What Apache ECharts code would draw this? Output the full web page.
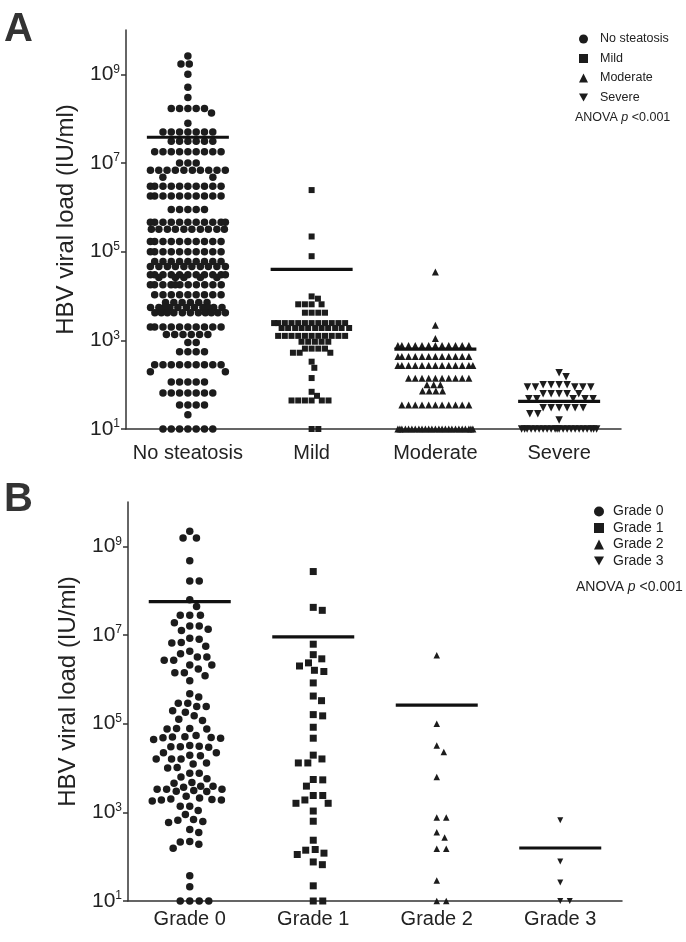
<!DOCTYPE html>
<html><head><meta charset="utf-8">
<script src="https://cdn.jsdelivr.net/npm/echarts@6/dist/echarts.min.js"></script>
<style>html,body{margin:0;padding:0;background:#fff}#c{width:686px;height:942px}</style>
</head><body><div id="c"></div>
<script>
// ---------- DATA (HBV viral load, IU/ml) ----------
const categoriesA = ['No steatosis', 'Mild', 'Moderate', 'Severe'];
const categoriesB = ['Grade 0', 'Grade 1', 'Grade 2', 'Grade 3'];
const yTickValues = [10, 1e3, 1e5, 1e7, 1e9];

const noSteatosis = [
  2.6e9, 1.7e9, 1.7e9, 1.0e9, 5.1e8, 3.0e8,
  1.7e8, 1.7e8, 1.7e8, 1.7e8, 1.7e8, 1.35e8, 7.9e7,
  5.0e7, 5.0e7, 5.0e7, 5.0e7, 5.0e7, 5.0e7, 5.0e7,
  3.1e7, 3.1e7, 3.1e7, 3.1e7, 3.1e7, 3.1e7,
  1.8e7, 1.8e7, 1.8e7, 1.8e7, 1.8e7, 1.8e7, 1.8e7, 1.8e7, 1.8e7,
  1.0e7, 1.0e7, 1.0e7,
  6.9e6, 6.9e6, 6.9e6, 6.9e6, 6.9e6, 6.9e6, 6.9e6, 6.9e6, 6.9e6, 6.9e6,
  4.8e6, 4.8e6,
  3.0e6, 3.0e6, 3.0e6, 3.0e6, 3.0e6, 3.0e6, 3.0e6, 3.0e6, 3.0e6, 3.0e6,
  1.8e6, 1.8e6, 1.8e6, 1.8e6, 1.8e6, 1.8e6, 1.8e6, 1.8e6, 1.8e6, 1.8e6,
  8.9e5, 8.9e5, 8.9e5, 8.9e5, 8.9e5,
  4.6e5, 4.6e5, 4.6e5, 4.6e5, 4.6e5, 4.6e5, 4.6e5, 4.6e5, 4.6e5, 4.6e5, 4.6e5,
  3.2e5, 3.2e5, 3.2e5, 3.2e5, 3.2e5, 3.2e5, 3.2e5, 3.2e5, 3.2e5, 3.2e5,
  1.7e5, 1.7e5, 1.7e5, 1.7e5, 1.7e5, 1.7e5, 1.7e5, 1.7e5, 1.7e5, 1.7e5,
  1.0e5, 1.0e5, 1.0e5, 1.0e5, 1.0e5, 1.0e5, 1.0e5, 1.0e5, 1.0e5, 1.0e5,
  6.0e4, 6.0e4, 6.0e4, 6.0e4, 6.0e4, 6.0e4, 6.0e4, 6.0e4, 6.0e4,
  4.6e4, 4.6e4, 4.6e4, 4.6e4, 4.6e4, 4.6e4, 4.6e4, 4.6e4, 4.6e4, 4.6e4,
  3.0e4, 3.0e4, 3.0e4, 3.0e4, 3.0e4, 3.0e4, 3.0e4, 3.0e4, 3.0e4, 3.0e4, 3.0e4,
  2.6e4, 2.6e4, 2.6e4, 2.6e4, 2.6e4,
  1.8e4, 1.8e4, 1.8e4, 1.8e4, 1.8e4, 1.8e4, 1.8e4, 1.8e4, 1.8e4, 1.8e4, 1.8e4,
  1.07e4, 1.07e4, 1.07e4, 1.07e4, 1.07e4, 1.07e4, 1.07e4, 1.07e4, 1.07e4,
  7.1e3, 7.1e3, 7.1e3, 7.1e3, 7.1e3, 7.1e3,
  5.5e3, 5.5e3, 5.5e3, 5.5e3, 5.5e3, 5.5e3, 5.5e3, 5.5e3, 5.5e3, 5.5e3, 5.5e3,
  4.2e3, 4.2e3, 4.2e3, 4.2e3, 4.2e3, 4.2e3, 4.2e3, 4.2e3, 4.2e3, 4.2e3, 4.2e3,
  2.0e3, 2.0e3, 2.0e3, 2.0e3, 2.0e3, 2.0e3, 2.0e3, 2.0e3, 2.0e3, 2.0e3,
  1.35e3, 1.35e3, 1.35e3, 1.35e3, 1.35e3, 1.35e3,
  890, 890, 550, 550, 550, 550,
  280, 280, 280, 280, 280, 280, 280, 280, 280,
  195, 195, 115, 115, 115, 115, 115,
  65, 65, 65, 65, 65, 65, 65,
  35, 35, 35, 35, 21,
  10, 10, 10, 10, 10, 10, 10
];
const mild = [
  2.45e6, 2.2e5, 7.9e4, 9.8e3, 8.7e3,
  6.5e3, 6.5e3, 6.5e3, 6.5e3, 4.2e3, 4.2e3, 4.2e3, 4.2e3,
  2.45e3, 2.45e3, 2.45e3, 2.45e3, 2.45e3, 2.45e3, 2.45e3, 2.45e3, 2.45e3, 2.45e3, 2.45e3, 2.45e3,
  1.9e3, 1.9e3, 1.9e3, 1.9e3, 1.9e3, 1.9e3, 1.9e3, 1.9e3, 1.9e3, 1.9e3, 1.9e3,
  1.26e3, 1.26e3, 1.26e3, 1.26e3, 1.26e3, 1.26e3, 1.26e3, 1.26e3, 1.26e3, 1.26e3, 1.26e3,
  930, 930, 930, 930, 930, 650, 650, 650, 650, 525, 525, 525,
  330, 240, 141, 69, 56, 44, 44, 44, 44, 44, 44, 10, 10
];
const moderate = [
  3.5e4, 2.2e3, 1.1e3,
  760, 760, 760, 760, 760, 760, 760, 760, 760, 760, 760, 760,
  430, 430, 430, 430, 430, 430, 430, 430, 430, 430, 430, 430,
  270, 270, 270, 270, 270, 270, 270, 270, 270, 270, 270, 270, 270,
  140, 140, 140, 140, 140, 140, 140, 140, 140, 140,
  100, 100, 100, 72, 72, 72, 72,
  35, 35, 35, 35, 35, 35, 35, 35, 35, 35, 35,
  10, 10, 10, 10, 10, 10, 10, 10, 10, 10, 10, 10, 10, 10, 10, 10, 10, 10, 10, 10, 10, 10, 10, 10, 10
];
const severe = [
  186, 151, 100, 100, 100, 100, 89, 89, 89, 89, 89,
  62, 62, 62, 62, 62, 48, 48, 48, 48, 48,
  30, 30, 30, 30, 30, 30, 22, 22, 16,
  10, 10, 10, 10, 10, 10, 10, 10, 10, 10, 10, 10, 10, 10, 10, 10, 10, 10, 10, 10, 10, 10
];
const grade0 = [
  2.2e9, 1.55e9, 1.55e9, 4.7e8, 1.66e8, 1.66e8, 6.2e7, 4.4e7, 2.8e7, 2.8e7, 2.8e7,
  1.9e7, 1.6e7, 1.6e7, 1.35e7, 1.26e7, 8.5e6, 8.0e6, 6.8e6, 6.6e6, 5.6e6,
  4.3e6, 3.8e6, 3.2e6, 3.2e6, 2.7e6, 2.7e6, 2.1e6, 2.1e6, 1.7e6, 1.4e6, 1.4e6, 1.2e6, 9.3e5,
  4.7e5, 4.0e5, 2.9e5, 2.9e5, 2.45e5, 2.45e5, 1.95e5, 1.8e5, 1.5e5, 1.26e5, 1.18e5,
  7.8e4, 7.8e4, 7.6e4, 7.6e4, 5.4e4, 5.1e4, 5.0e4, 4.9e4, 4.8e4, 4.7e4, 4.4e4,
  3.2e4, 3.1e4, 3.0e4, 3.0e4, 2.95e4, 2.2e4, 2.2e4, 1.95e4, 1.9e4, 1.6e4, 1.6e4, 1.6e4,
  1.3e4, 1.23e4, 1.02e4, 1.0e4, 7.6e3, 7.6e3, 6.3e3, 5.7e3, 4.7e3, 4.5e3, 3.9e3, 3.9e3,
  3.7e3, 3.3e3, 3.3e3, 3.3e3, 3.1e3, 3.0e3, 2.95e3,
  2.3e3, 2.1e3, 2.0e3, 1.95e3, 1.9e3, 1.9e3, 1.8e3, 1.38e3, 1.38e3, 1.1e3, 890,
  690, 660, 620, 590, 410, 350, 220, 215, 190, 155, 37, 21, 10, 10, 10, 10
];
const grade1 = [
  2.7e8, 4.2e7, 3.6e7, 6.2e6, 3.6e6, 2.9e6, 2.35e6, 2.0e6, 1.6e6, 1.5e6,
  8.3e5, 4.2e5, 3.3e5, 1.6e5, 1.5e5, 8.3e4, 4.7e4, 1.95e4, 1.6e4, 1.3e4, 1.3e4,
  5.5e3, 5.4e3, 3.9e3, 2.4e3, 2.4e3, 1.9e3, 1.6e3, 1.6e3, 1.07e3,
  630, 235, 145, 140, 120, 112, 76, 66, 22, 10, 10
];
const grade2 = [3.5e6, 1.0e5, 3.2e4, 2.3e4, 6.3e3, 760, 760, 355, 270, 150, 150, 29, 10, 10];
const grade3 = [660, 78, 26, 10, 10];

// ---------- LAYOUT ----------
const gridA = { left: 126, right: 65, top: 30, height: 399 };
const gridB = { left: 128, right: 64, top: 502, height: 399 };
const FONT = "'Liberation Sans', Arial, Helvetica, sans-serif";
const INK = '#1c1c1c';
const TXT = '#222';

// beeswarm offsets (pixels) computed from values
function swarm(values, grid, d, maxHalf) {
  const toPx = v => grid.top + (10 - Math.log10(v)) / 9 * grid.height;
  const pts = values.map((v, i) => ({ i, y: toPx(v), x: 0 }));
  const order = pts.slice().sort((a, b) => a.y - b.y || a.i - b.i);
  const placed = [];
  const off = new Array(values.length);
  for (const p of order) {
    const near = placed.filter(q => Math.abs(q.y - p.y) < d);
    const cands = [0];
    for (const q of near) {
      const dx = Math.sqrt(d * d - (q.y - p.y) * (q.y - p.y));
      cands.push(q.x + dx, q.x - dx);
    }
    const ok = cands.filter(x => Math.abs(x) <= maxHalf + 1e-6 &&
      near.every(q => (q.x - x) * (q.x - x) + (q.y - p.y) * (q.y - p.y) >= d * d - 1e-6));
    let x = 0;
    if (ok.length) {
      const bal = near.reduce((s, q) => s + q.x, 0);
      ok.sort((a, b) => (Math.round(Math.abs(a) * 100) - Math.round(Math.abs(b) * 100)) || (bal > 0 ? a - b : b - a));
      x = ok[0];
    } else {
      let best = -1;
      for (let t = -maxHalf; t <= maxHalf + 1e-9; t += 0.5) {
        let m = Infinity;
        for (const q of near) m = Math.min(m, Math.hypot(q.x - t, q.y - p.y));
        if (m > best + 1e-9 || (Math.abs(m - best) < 1e-9 && Math.abs(t) < Math.abs(x))) { best = m; x = t; }
      }
    }
    p.x = x; placed.push(p); off[p.i] = x;
  }
  return off;
}

const triDown = 'path://M0,0L10,0L5,9Z';
function scatterSeries(name, values, cat, idx, grid, symbol, size, d) {
  const off = swarm(values, grid, d, 37.5);
  return {
    type: 'scatter', name, xAxisIndex: idx, yAxisIndex: idx, symbol, symbolSize: size,
    clip: false, z: 3, itemStyle: { color: INK, opacity: 1 },
    data: values.map((v, i) => ({ value: [cat, v], symbolOffset: [off[i], 0] }))
  };
}
const mean = a => a.reduce((s, v) => s + v, 0) / a.length;
function meanSeries(cats, groups, idx) {
  return {
    type: 'custom', xAxisIndex: idx, yAxisIndex: idx, z: 5, silent: true,
    encode: { x: 0, y: 1 },
    data: groups.map((g, i) => [cats[i], mean(g)]),
    renderItem: (params, api) => {
      const c = api.coord([api.value(0), api.value(1)]);
      return { type: 'line', shape: { x1: c[0] - 41, y1: c[1], x2: c[0] + 41, y2: c[1] },
        style: { stroke: '#111', lineWidth: 3.2 } };
    }
  };
}

function xAxis(cats, idx, margin) {
  return {
    type: 'category', gridIndex: idx, data: cats, boundaryGap: true,
    axisLine: { onZero: false, lineStyle: { color: '#333', width: 1.5 } },
    axisTick: { alignWithLabel: true, length: 6, lineStyle: { color: '#333', width: 1.5 } },
    axisLabel: { interval: 0, margin, fontSize: 20, color: TXT, fontFamily: FONT },
    splitLine: { show: false }
  };
}
function yAxis(idx) {
  return {
    type: 'log', logBase: 10, gridIndex: idx, min: 10, max: 1e10,
    name: 'HBV viral load (IU/ml)', nameLocation: 'middle', nameGap: 48,
    nameTextStyle: { fontSize: 24, color: TXT, fontFamily: FONT, padding: [0, 0, 0, 20] },
    axisLine: { show: true, lineStyle: { color: '#333', width: 1.5 } },
    axisTick: { show: true, length: 5, customValues: yTickValues, lineStyle: { color: '#333', width: 1.5 } },
    axisLabel: {
      customValues: yTickValues, margin: 6, fontFamily: FONT,
      formatter: v => '{b|10}{s|' + Math.round(Math.log10(v)) + '}',
      rich: {
        b: { fontSize: 21, color: TXT, fontFamily: FONT, lineHeight: 22 },
        s: { fontSize: 12, color: TXT, fontFamily: FONT, verticalAlign: 'top', lineHeight: 22 }
      }
    },
    splitLine: { show: false }, minorTick: { show: false }
  };
}

const chart = echarts.init(document.getElementById('c'), null, { renderer: 'canvas' });
chart.setOption({
  backgroundColor: '#fff',
  animation: false,
  textStyle: { fontFamily: FONT },
  grid: [gridA, gridB],
  xAxis: [xAxis(categoriesA, 0, 14), xAxis(categoriesB, 1, 8)],
  yAxis: [yAxis(0), yAxis(1)],
  legend: [
    {
      orient: 'vertical', left: 574, top: 27, itemWidth: 9, itemHeight: 9, itemGap: 5.5, selectedMode: false,
      textStyle: { fontSize: 12.5, color: TXT, fontFamily: FONT, lineHeight: 14, padding: [0, 0, 0, 7] },
      data: [
        { name: 'No steatosis', icon: 'circle' }, { name: 'Mild', icon: 'rect' },
        { name: 'Moderate', icon: 'triangle' }, { name: 'Severe', icon: triDown }
      ]
    },
    {
      orient: 'vertical', left: 589, top: 499, itemWidth: 10, itemHeight: 10, itemGap: 1.5, selectedMode: false,
      textStyle: { fontSize: 14, color: TXT, fontFamily: FONT, lineHeight: 15, padding: [0, 0, 0, 4] },
      data: [
        { name: 'Grade 0', icon: 'circle' }, { name: 'Grade 1', icon: 'rect' },
        { name: 'Grade 2', icon: 'triangle' }, { name: 'Grade 3', icon: triDown }
      ]
    }
  ],
  graphic: [
    { type: 'text', left: 4, top: 10, style: { text: 'A', font: 'bold 40px ' + FONT, fill: '#333' } },
    { type: 'text', left: 4, top: 480, style: { text: 'B', font: 'bold 40px ' + FONT, fill: '#333' } },
    { type: 'text', left: 575, top: 111, style: { text: '{n|ANOVA }{i|p}{n| <0.001}',
      rich: { n: { fontSize: 12.5, fill: TXT, fontFamily: FONT }, i: { fontSize: 12.5, fill: TXT, fontFamily: FONT, fontStyle: 'italic' } } } },
    { type: 'text', left: 576, top: 580, style: { text: '{n|ANOVA }{i|p}{n| <0.001}',
      rich: { n: { fontSize: 14, fill: TXT, fontFamily: FONT }, i: { fontSize: 14, fill: TXT, fontFamily: FONT, fontStyle: 'italic' } } } }
  ],
  series: [
    scatterSeries('No steatosis', noSteatosis, categoriesA[0], 0, gridA, 'circle', 7.5, 8.3),
    scatterSeries('Mild', mild, categoriesA[1], 0, gridA, 'rect', 6, 6.7),
    scatterSeries('Moderate', moderate, categoriesA[2], 0, gridA, 'triangle', 7, 6.7),
    scatterSeries('Severe', severe, categoriesA[3], 0, gridA, triDown, 7.5, 8),
    meanSeries(categoriesA, [noSteatosis, mild, moderate, severe], 0),
    scatterSeries('Grade 0', grade0, categoriesB[0], 1, gridB, 'circle', 7.5, 9.5),
    scatterSeries('Grade 1', grade1, categoriesB[1], 1, gridB, 'rect', 7, 9.5),
    scatterSeries('Grade 2', grade2, categoriesB[2], 1, gridB, 'triangle', 6.5, 9.5),
    scatterSeries('Grade 3', grade3, categoriesB[3], 1, gridB, triDown, 6, 9.5),
    meanSeries(categoriesB, [grade0, grade1, grade2, grade3], 1)
  ]
});
</script>
</body></html>
